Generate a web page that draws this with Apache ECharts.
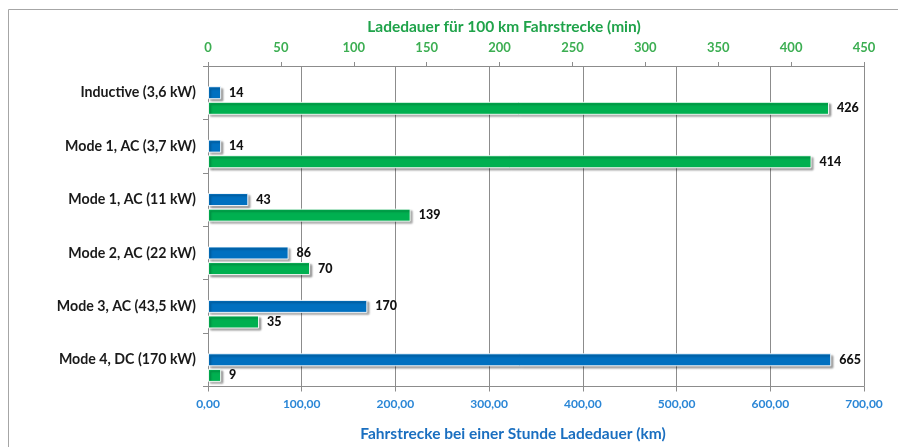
<!DOCTYPE html>
<html>
<head>
<meta charset="utf-8">
<script src="https://cdn.jsdelivr.net/npm/echarts@6/dist/echarts.min.js"></script>
<style>
html,body{margin:0;padding:0;background:#fff;}
#c{width:898px;height:447px;}
</style>
</head>
<body>
<div id="c"></div>
<script>
const categories = ['Inductive (3,6 kW)', 'Mode 1, AC (3,7 kW)', 'Mode 1, AC (11 kW)', 'Mode 2, AC (22 kW)', 'Mode 3, AC (43,5 kW)', 'Mode 4, DC (170 kW)'];
const rangeKm = [14, 14, 43, 86, 170, 665];
const chargeMin = [426, 414, 139, 70, 35, 9];
const bottomTitle = 'Fahrstrecke bei einer Stunde Ladedauer (km)';
const topTitle = 'Ladedauer für 100 km Fahrstrecke (min)';

const FONT = 'Lato';
const BLUE = '#0070C0';
const GREEN = '#00B050';
const GRID = '#8c8c8c';

const barStyle = (c) => ({
  color: c,
  borderColor: 'rgba(255,255,255,0.9)',
  borderWidth: 1,
  shadowColor: 'rgba(0,0,0,0.35)',
  shadowBlur: 2,
  shadowOffsetX: 2,
  shadowOffsetY: 2
});
const lbl = {
  show: true, position: 'right', distance: 8,
  color: '#111', fontFamily: FONT, fontWeight: 900, fontSize: 12.5
};

const chart = echarts.init(document.getElementById('c'));
chart.setOption({
  animation: false,
  textStyle: { fontFamily: FONT },
  graphic: [{
    type: 'rect', shape: { x: 8.5, y: 9.5, width: 900, height: 460 },
    style: { fill: 'none', stroke: '#a6a6a6', lineWidth: 1 }, silent: true, z: -10
  }],
  grid: { left: 208, right: 34, top: 66, bottom: 60.5 },
  xAxis: [{
    type: 'value', position: 'bottom', min: 0, max: 700, interval: 100,
    name: bottomTitle, nameLocation: 'middle', nameGap: 39,
    nameTextStyle: { color: '#1a6fc0', fontFamily: FONT, fontWeight: 'bold', fontSize: 15.5, padding: [0, 46, 0, 0] },
    axisLine: { show: true, lineStyle: { color: GRID } },
    axisTick: { show: true, length: 5, lineStyle: { color: GRID } },
    axisLabel: { color: '#2a86d6', fontFamily: FONT, fontWeight: 'bold', fontSize: 12, margin: 12,
      formatter: v => v.toFixed(2).replace('.', ',') },
    splitLine: { show: true, lineStyle: { color: GRID, width: 1 } }
  }, {
    type: 'value', position: 'top', min: 0, max: 450, interval: 50,
    name: topTitle, nameLocation: 'middle', nameGap: 31,
    nameTextStyle: { color: '#1fa34a', fontFamily: FONT, fontWeight: 'bold', fontSize: 15.5, padding: [0, 64, 0, 0] },
    axisLine: { show: true, lineStyle: { color: GRID } },
    axisTick: { show: true, length: 4, lineStyle: { color: GRID } },
    axisLabel: { color: '#3cae52', fontFamily: FONT, fontWeight: 'bold', fontSize: 13, margin: 12 },
    splitLine: { show: false }
  }],
  yAxis: {
    type: 'category', inverse: true, data: categories,
    axisLine: { show: true, lineStyle: { color: GRID } },
    axisTick: { show: true, length: 5, lineStyle: { color: GRID } },
    axisLabel: { color: '#1a1a1a', fontFamily: FONT, fontWeight: 'bold', fontSize: 14.2, margin: 12 }
  },
  series: [{
    name: 'spacer', type: 'bar', xAxisIndex: 0, data: categories.map(() => null),
    barWidth: 13, barGap: '20%', silent: true
  }, {
    name: 'km', type: 'bar', xAxisIndex: 0, data: rangeKm,
    barWidth: 13, barGap: '20%', itemStyle: barStyle(BLUE), label: lbl
  }, {
    name: 'min', type: 'bar', xAxisIndex: 1, data: chargeMin,
    barWidth: 13, barGap: '20%', itemStyle: barStyle(GREEN), label: lbl
  }]
});
</script>
</body>
</html>
